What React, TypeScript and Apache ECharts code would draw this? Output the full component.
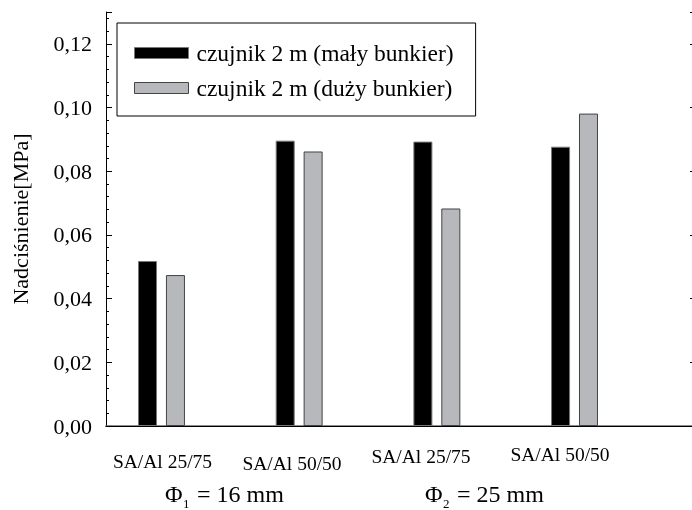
import React, { useEffect, useRef } from 'react';
import * as echarts from 'echarts';

// ---- data ----
const categories = ['SA/Al 25/75', 'SA/Al 50/50', 'SA/Al 25/75', 'SA/Al 50/50'];
const groupPositions = [1, 2, 3, 4];
const seriesNames = ['czujnik 2 m (mały bunkier)', 'czujnik 2 m (duży bunkier)'];
const smallBunker = [0.0518, 0.0896, 0.0893, 0.0877];
const largeBunker = [0.0474, 0.0862, 0.0683, 0.0981];
const groupSymbols = ['Φ', 'Φ'];
const groupSubscripts = ['1', '2'];
const groupRest = ['= 16 mm', '= 25 mm'];
const yTickMax = 0.12;

// ---- styles ----
const FONT = 'Liberation Serif';
const catLabelPos = [
  [162.5, 461],
  [292, 463],
  [421, 456],
  [560, 454],
];
const titleLeft = [165, 425];
const titleY = 494;

export default function App() {
  const ref = useRef<HTMLDivElement>(null);
  useEffect(() => {
    if (!ref.current) return;
    const chart = echarts.init(ref.current, null, { renderer: 'svg' });
    const xMin = 0.597;
    const xMax = 4.875;
    const yMin = 0;
    const yMax = 0.13;
    const graphics: any[] = [];
    categories.forEach((c, i) => {
      graphics.push({
        type: 'text',
        x: catLabelPos[i][0],
        y: catLabelPos[i][1],
        style: {
          text: c,
          fontFamily: FONT,
          fontSize: 19.5,
          fill: '#000',
          align: 'center',
          verticalAlign: 'middle',
        },
      });
    });
    groupSymbols.forEach((s, i) => {
      const x0 = titleLeft[i];
      graphics.push({
        type: 'text',
        x: x0,
        y: titleY,
        style: { text: s, fontFamily: FONT, fontSize: 24, fill: '#000', align: 'left', verticalAlign: 'middle' },
      });
      graphics.push({
        type: 'text',
        x: x0 + 18,
        y: titleY + 9,
        style: { text: groupSubscripts[i], fontFamily: FONT, fontSize: 13, fill: '#000', align: 'left', verticalAlign: 'middle' },
      });
      graphics.push({
        type: 'text',
        x: x0 + 32,
        y: titleY,
        style: { text: groupRest[i], fontFamily: FONT, fontSize: 24, fill: '#000', align: 'left', verticalAlign: 'middle' },
      });
    });
    chart.setOption({
      animation: false,
      grid: { left: 106, right: 1, top: 12, bottom: 84 },
      legend: {
        orient: 'vertical',
        left: 117,
        top: 23,
        itemWidth: 54,
        itemHeight: 11,
        itemGap: 11,
        padding: [18, 22, 16, 17],
        borderColor: '#000',
        borderWidth: 1,
        icon: 'rect',
        itemStyle: { borderWidth: 1 },
        textStyle: { fontFamily: FONT, fontSize: 23.5, color: '#000', padding: [0, 0, 0, 3] },
        data: seriesNames,
      },
      xAxis: [
        {
          type: 'value',
          min: xMin,
          max: xMax,
          position: 'bottom',
          axisLine: { show: true, lineStyle: { color: '#666', width: 1.5 } },
          axisTick: { show: false },
          axisLabel: { show: false },
          splitLine: { show: false },
        },
        {
          type: 'value',
          min: xMin,
          max: xMax,
          position: 'top',
          axisLine: { show: true, lineStyle: { color: '#000', width: 1 } },
          axisTick: { show: false },
          axisLabel: { show: false },
          splitLine: { show: false },
        },
      ],
      yAxis: [
        {
          type: 'value',
          min: yMin,
          max: yMax,
          interval: 0.02,
          position: 'left',
          name: 'Nadciśnienie[MPa]',
          nameLocation: 'middle',
          nameGap: 75,
          nameRotate: 90,
          nameTextStyle: { fontFamily: FONT, fontSize: 22, color: '#000' },
          axisLine: { show: true, lineStyle: { color: '#000', width: 1 } },
          axisTick: { show: true, inside: true, length: 6, lineStyle: { color: '#000' } },
          splitLine: { show: false },
          axisLabel: {
            margin: 14,
            fontFamily: FONT,
            fontSize: 22,
            color: '#000',
            formatter: (v: number) => (v > yTickMax + 1e-9 ? '' : v.toFixed(2).replace('.', ',')),
          },
        },
        {
          type: 'value',
          min: yMin,
          max: yMax,
          interval: 0.02,
          position: 'right',
          axisLine: { show: true, lineStyle: { color: '#000', width: 1 } },
          axisTick: { show: true, inside: true, length: 5, lineStyle: { color: '#000' } },
          axisLabel: { show: false },
          splitLine: { show: false },
        },
        {
          type: 'value',
          min: yMin,
          max: yMax,
          interval: 0.004,
          position: 'left',
          axisLine: { show: false },
          axisTick: { show: true, inside: true, length: 3, lineStyle: { color: '#000' } },
          axisLabel: { show: false },
          splitLine: { show: false },
        },
      ],
      series: [
        {
          name: seriesNames[0],
          type: 'bar',
          barWidth: 19,
          barGap: '47%',
          itemStyle: { color: '#000', borderColor: '#777', borderWidth: 1 },
          data: groupPositions.map((x, i) => [x, smallBunker[i]]),
        },
        {
          name: seriesNames[1],
          type: 'bar',
          barWidth: 19,
          barGap: '47%',
          itemStyle: { color: '#b7b8bc', borderColor: '#444', borderWidth: 1 },
          data: groupPositions.map((x, i) => [x, largeBunker[i]]),
        },
      ],
      graphic: graphics,
    });
    return () => chart.dispose();
  }, []);
  return (
    <div ref={ref} style={{ position: 'fixed', left: 0, top: 0, width: 696, height: 510 }} />
  );
}
